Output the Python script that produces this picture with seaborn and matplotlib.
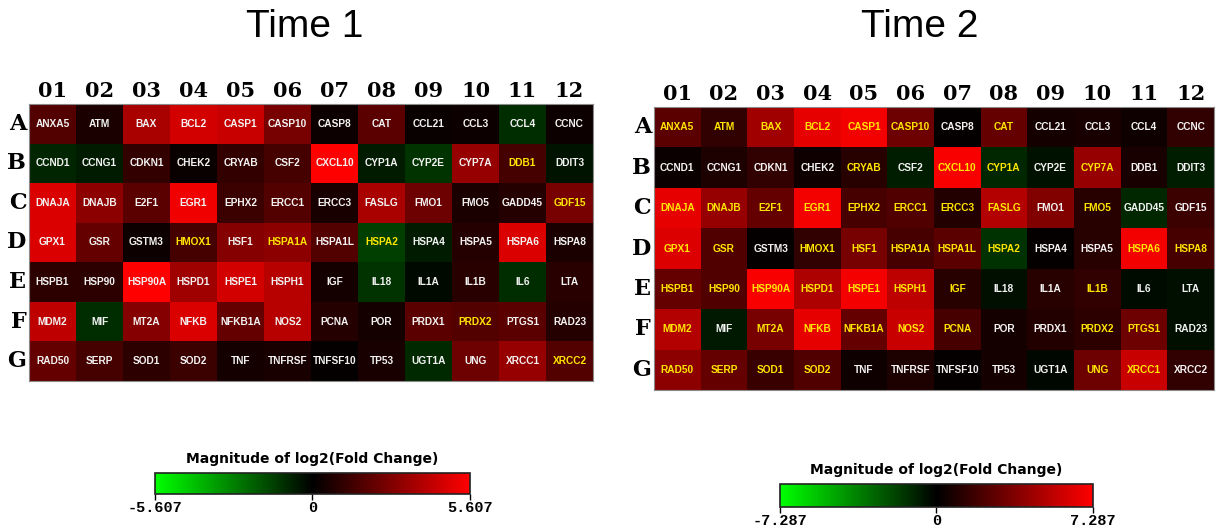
import matplotlib
matplotlib.use("Agg")
import matplotlib.pyplot as plt
from matplotlib.colors import LinearSegmentedColormap
import seaborn as sns
import pandas as pd
import numpy as np

rows = ["A", "B", "C", "D", "E", "F", "G"]
cols = ["01", "02", "03", "04", "05", "06", "07", "08", "09", "10", "11", "12"]

genes = [
    ["ANXA5", "ATM", "BAX", "BCL2", "CASP1", "CASP10", "CASP8", "CAT", "CCL21", "CCL3", "CCL4", "CCNC"],
    ["CCND1", "CCNG1", "CDKN1", "CHEK2", "CRYAB", "CSF2", "CXCL10", "CYP1A", "CYP2E", "CYP7A", "DDB1", "DDIT3"],
    ["DNAJA", "DNAJB", "E2F1", "EGR1", "EPHX2", "ERCC1", "ERCC3", "FASLG", "FMO1", "FMO5", "GADD45", "GDF15"],
    ["GPX1", "GSR", "GSTM3", "HMOX1", "HSF1", "HSPA1A", "HSPA1L", "HSPA2", "HSPA4", "HSPA5", "HSPA6", "HSPA8"],
    ["HSPB1", "HSP90", "HSP90A", "HSPD1", "HSPE1", "HSPH1", "IGF", "IL18", "IL1A", "IL1B", "IL6", "LTA"],
    ["MDM2", "MIF", "MT2A", "NFKB", "NFKB1A", "NOS2", "PCNA", "POR", "PRDX1", "PRDX2", "PTGS1", "RAD23"],
    ["RAD50", "SERP", "SOD1", "SOD2", "TNF", "TNFRSF", "TNFSF10", "TP53", "UGT1A", "UNG", "XRCC1", "XRCC2"],
]

# log2 fold change
time1_fc = [
    [1.8, 0.6, 3.7, 4.6, 4.4, 2.6, 0.3, 2.0, 0.2, 0.3, -1.0, 0.3],
    [-0.8, -0.6, 1.1, 0.2, 1.1, 1.5, 5.6, -0.6, -1.1, 3.3, 1.5, -0.4],
    [4.8, 3.1, 2.0, 5.3, 1.3, 1.8, 0.55, 3.7, 2.4, 0.6, 0.8, 2.6],
    [4.8, 2.2, 0.3, 1.5, 2.9, 3.1, 1.8, -1.4, -0.6, 0.8, 4.8, 0.6],
    [1.0, 1.0, 5.6, 3.5, 4.6, 4.0, 0.45, -1.1, -0.2, 0.9, -1.0, 0.9],
    [4.2, -1.0, 2.9, 4.8, 2.2, 4.0, 0.8, 0.45, 2.0, 1.8, 2.0, 0.8],
    [2.2, 1.5, 1.0, 1.3, 0.45, 0.55, 0.1, 0.55, -0.9, 2.4, 3.3, 1.8],
]
time2_fc = [
    [2.6, 1.4, 4.6, 6.6, 6.9, 3.1, 0.15, 2.9, 0.6, 0.7, 0.4, 1.4],
    [0.3, 0.85, 1.4, 0.4, 1.1, -0.8, 7.1, -1.1, -0.5, 4.3, 0.7, -0.8],
    [6.6, 4.3, 2.9, 6.9, 2.0, 2.3, 1.0, 5.1, 3.7, 1.1, -1.1, 1.7],
    [6.3, 2.3, 0.15, 1.4, 3.4, 2.0, 2.6, -1.4, 0.15, 1.1, 6.9, 2.0],
    [2.9, 2.3, 7.1, 4.9, 7.0, 5.4, 1.1, -0.4, 1.1, 1.4, -0.3, -0.4],
    [5.1, -0.7, 3.4, 6.6, 2.9, 5.7, 2.0, 0.6, 1.0, 1.3, 3.1, -0.4],
    [4.0, 2.9, 1.6, 2.3, 0.4, 0.85, 0.15, 0.6, -0.2, 3.1, 5.7, 1.4],
]

time1_max = 5.607
time2_max = 7.287

# genes whose label is printed in yellow
time1_yellow = ["DDB1", "GDF15", "HMOX1", "HSPA1A", "HSPA2", "PRDX2", "XRCC2"]
time2_yellow = [
    "ANXA5", "ATM", "BAX", "BCL2", "CASP1", "CASP10", "CAT",
    "CRYAB", "CXCL10", "CYP1A", "CYP7A",
    "DNAJA", "DNAJB", "E2F1", "EGR1", "EPHX2", "ERCC1", "ERCC3", "FASLG", "FMO5",
    "GPX1", "GSR", "HMOX1", "HSF1", "HSPA1A", "HSPA1L", "HSPA2", "HSPA6", "HSPA8",
    "HSPB1", "HSP90", "HSP90A", "HSPD1", "HSPE1", "HSPH1", "IGF", "IL1B",
    "MDM2", "MT2A", "NFKB", "NFKB1A", "NOS2", "PCNA", "PRDX2", "PTGS1",
    "RAD50", "SERP", "SOD1", "SOD2", "UNG", "XRCC1",
]

cmap = LinearSegmentedColormap.from_list("gkr", ["#00ff00", "#000000", "#ff0000"])


def draw_plate(fig, ax_rect, cbar_rect, values, vmax, yellow, title, title_x):
    ax = fig.add_axes(ax_rect)
    cax = fig.add_axes(cbar_rect)
    df = pd.DataFrame(values, index=rows, columns=cols)
    sns.heatmap(df, ax=ax, cmap=cmap, vmin=-vmax, vmax=vmax,
                annot=np.array(genes), fmt="",
                annot_kws={"fontsize": 7.3, "fontweight": "bold",
                           "family": "Liberation Sans"},
                cbar_ax=cax,
                cbar_kws={"orientation": "horizontal", "ticks": [-vmax, 0, vmax]})
    flat = [g for row in genes for g in row]
    for txt, g in zip(ax.texts, flat):
        txt.set_color("#ffe600" if g in yellow else "#f2f2f2")

    ax.xaxis.tick_top()
    ax.tick_params(length=0, pad=2)
    ax.set_xticklabels(cols, fontsize=15, fontweight="bold", family="DejaVu Serif")
    ax.set_yticklabels(rows, rotation=0, fontsize=16, fontweight="bold", family="DejaVu Serif")
    ax.set_xlabel("")
    ax.set_ylabel("")
    for sp in ax.spines.values():
        sp.set_visible(True)
        sp.set_color("#8a8a8a")
        sp.set_linewidth(0.8)

    cb = ax.collections[0].colorbar
    cb.outline.set_linewidth(1.2)
    cb.outline.set_edgecolor("#222222")
    cb.set_ticklabels([f"-{vmax:.3f}", "0", f"{vmax:.3f}"])
    cax.tick_params(length=4, width=1, pad=1, labelsize=11)
    for lbl in cax.get_xticklabels():
        lbl.set_fontweight("bold")
        lbl.set_family("Liberation Mono")
    cax.set_title("Magnitude of log2(Fold Change)", fontsize=10,
                  fontweight="bold", family="DejaVu Sans", pad=7)

    fig.text(title_x, 0.95, title, ha="center", va="center", fontsize=28,
             family="Liberation Sans")


fig = plt.figure(figsize=(12.21, 5.31), dpi=100)
draw_plate(fig, [0.0238, 0.2825, 0.4619, 0.5217], [0.1269, 0.0697, 0.2580, 0.0395],
           time1_fc, time1_max, time1_yellow, "Time 1", 0.2498)
draw_plate(fig, [0.5356, 0.2655, 0.4586, 0.5330], [0.6388, 0.0452, 0.2563, 0.0433],
           time2_fc, time2_max, time2_yellow, "Time 2", 0.7535)
fig.savefig("out.png", dpi=100)
